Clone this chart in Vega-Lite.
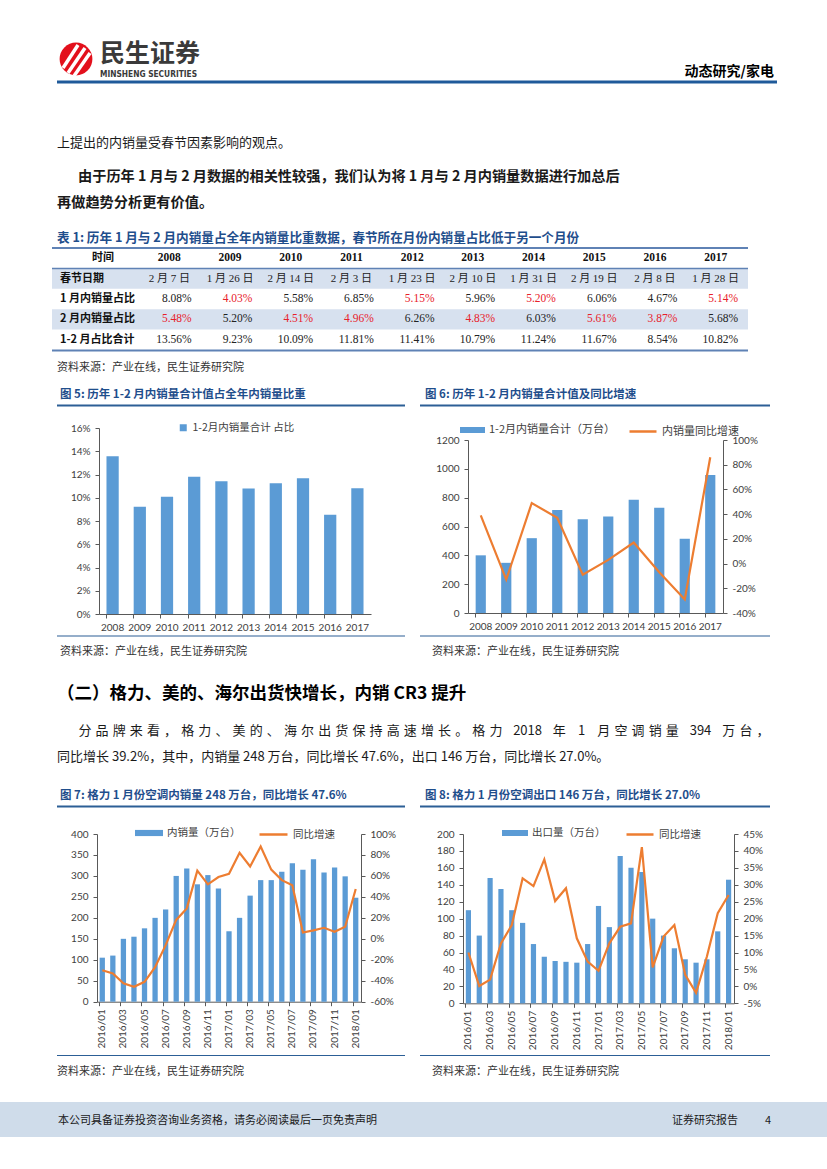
{
 "$schema": "https://vega.github.io/schema/vega-lite/v6.json",
 "width": 827,
 "height": 1169,
 "autosize": {"type": "none"},
 "padding": 0,
 "background": "white",
 "config": {
  "view": {"stroke": null},
  "font": "Noto Sans CJK SC",
  "locale": {"number": {"decimal": ".", "thousands": ",", "grouping": [3], "currency": ["", ""], "minus": "-"}},
  "text": {"baseline": "middle", "align": "left", "font": "Noto Sans CJK SC", "color": "#1a1a1a"},
  "axis": {"grid": false, "labelFont": "Lato", "labelFontSize": 10, "labelColor": "#404040", "domainColor": "#595959", "tickColor": "#595959", "tickSize": 4, "labelPadding": 2},
  "legend": {"labelFont": "Noto Sans CJK SC", "labelFontSize": 10.5, "labelColor": "#404040", "padding": 0, "labelOffset": 4}
 },
 "datasets": {
  "spring": [
   {"year": "2008", "date": "2 月 7 日", "jan": 0.0808, "feb": 0.0548, "total": 0.1356, "fest": 2},
   {"year": "2009", "date": "1 月 26 日", "jan": 0.0403, "feb": 0.0520, "total": 0.0923, "fest": 1},
   {"year": "2010", "date": "2 月 14 日", "jan": 0.0558, "feb": 0.0451, "total": 0.1009, "fest": 2},
   {"year": "2011", "date": "2 月 3 日", "jan": 0.0685, "feb": 0.0496, "total": 0.1181, "fest": 2},
   {"year": "2012", "date": "1 月 23 日", "jan": 0.0515, "feb": 0.0626, "total": 0.1141, "fest": 1},
   {"year": "2013", "date": "2 月 10 日", "jan": 0.0596, "feb": 0.0483, "total": 0.1079, "fest": 2},
   {"year": "2014", "date": "1 月 31 日", "jan": 0.0520, "feb": 0.0603, "total": 0.1124, "fest": 1},
   {"year": "2015", "date": "2 月 19 日", "jan": 0.0606, "feb": 0.0561, "total": 0.1167, "fest": 2},
   {"year": "2016", "date": "2 月 8 日", "jan": 0.0467, "feb": 0.0387, "total": 0.0854, "fest": 2},
   {"year": "2017", "date": "1 月 28 日", "jan": 0.0514, "feb": 0.0568, "total": 0.1082, "fest": 1}
  ],
  "rows": [
   {"row": "时间"}, {"row": "春节日期"}, {"row": "1 月内销量占比"}, {"row": "2 月内销量占比"}, {"row": "1-2 月占比合计"}
  ],
  "p4": [
   {"i": 0, "c": "分"}, {"i": 1, "c": "品"}, {"i": 2, "c": "牌"}, {"i": 3, "c": "来"}, {"i": 4, "c": "看"}, {"i": 5, "c": "，"},
   {"i": 6, "c": "格"}, {"i": 7, "c": "力"}, {"i": 8, "c": "、"}, {"i": 9, "c": "美"}, {"i": 10, "c": "的"}, {"i": 11, "c": "、"},
   {"i": 12, "c": "海"}, {"i": 13, "c": "尔"}, {"i": 14, "c": "出"}, {"i": 15, "c": "货"}, {"i": 16, "c": "保"}, {"i": 17, "c": "持"},
   {"i": 18, "c": "高"}, {"i": 19, "c": "速"}, {"i": 20, "c": "增"}, {"i": 21, "c": "长"}, {"i": 22, "c": "。"}, {"i": 23, "c": "格"},
   {"i": 24, "c": "力"}, {"i": 25.85, "c": "2018"}, {"i": 27.7, "c": "年"}, {"i": 29.0, "c": "1"}, {"i": 30.3, "c": "月"},
   {"i": 31.3, "c": "空"}, {"i": 32.3, "c": "调"}, {"i": 33.3, "c": "销"}, {"i": 34.3, "c": "量"}, {"i": 35.95, "c": "394"},
   {"i": 37.6, "c": "万"}, {"i": 38.6, "c": "台"}, {"i": 39.6, "c": "，"}
  ],
  "fig6": [
   {"year": "2008", "sales": 400, "growth": 0.39},
   {"year": "2009", "sales": 348, "growth": -0.13},
   {"year": "2010", "sales": 519, "growth": 0.49},
   {"year": "2011", "sales": 715, "growth": 0.37},
   {"year": "2012", "sales": 651, "growth": -0.09},
   {"year": "2013", "sales": 670, "growth": 0.03},
   {"year": "2014", "sales": 785, "growth": 0.17},
   {"year": "2015", "sales": 730, "growth": -0.07},
   {"year": "2016", "sales": 515, "growth": -0.29},
   {"year": "2017", "sales": 958, "growth": 0.86}
  ],
  "fig7": [
   {"month": "2016/01", "v": 105, "g": -0.30},
   {"month": "2016/02", "v": 110, "g": -0.33},
   {"month": "2016/03", "v": 150, "g": -0.425},
   {"month": "2016/04", "v": 155, "g": -0.457},
   {"month": "2016/05", "v": 175, "g": -0.41},
   {"month": "2016/06", "v": 200, "g": -0.27},
   {"month": "2016/07", "v": 220, "g": -0.06},
   {"month": "2016/08", "v": 300, "g": 0.18},
   {"month": "2016/09", "v": 318, "g": 0.29},
   {"month": "2016/10", "v": 280, "g": 0.65},
   {"month": "2016/11", "v": 302, "g": 0.52},
   {"month": "2016/12", "v": 270, "g": 0.59},
   {"month": "2017/01", "v": 168, "g": 0.62},
   {"month": "2017/02", "v": 200, "g": 0.82},
   {"month": "2017/03", "v": 253, "g": 0.69},
   {"month": "2017/04", "v": 290, "g": 0.88},
   {"month": "2017/05", "v": 290, "g": 0.66},
   {"month": "2017/06", "v": 310, "g": 0.56},
   {"month": "2017/07", "v": 330, "g": 0.51},
   {"month": "2017/08", "v": 315, "g": 0.06},
   {"month": "2017/09", "v": 340, "g": 0.08},
   {"month": "2017/10", "v": 308, "g": 0.105},
   {"month": "2017/11", "v": 320, "g": 0.068},
   {"month": "2017/12", "v": 299, "g": 0.115},
   {"month": "2018/01", "v": 248, "g": 0.476}
  ],
  "fig8": [
   {"month": "2016/01", "v": 110, "g": 0.10},
   {"month": "2016/02", "v": 80, "g": 0.001},
   {"month": "2016/03", "v": 148, "g": 0.02},
   {"month": "2016/04", "v": 135, "g": 0.127},
   {"month": "2016/05", "v": 110, "g": 0.181},
   {"month": "2016/06", "v": 95, "g": 0.319},
   {"month": "2016/07", "v": 70, "g": 0.296},
   {"month": "2016/08", "v": 55, "g": 0.375},
   {"month": "2016/09", "v": 50, "g": 0.252},
   {"month": "2016/10", "v": 49, "g": 0.29},
   {"month": "2016/11", "v": 48, "g": 0.142},
   {"month": "2016/12", "v": 70, "g": 0.073},
   {"month": "2017/01", "v": 115, "g": 0.046},
   {"month": "2017/02", "v": 90, "g": 0.127},
   {"month": "2017/03", "v": 174, "g": 0.176},
   {"month": "2017/04", "v": 160, "g": 0.186},
   {"month": "2017/05", "v": 155, "g": 0.411},
   {"month": "2017/06", "v": 100, "g": 0.056},
   {"month": "2017/07", "v": 80, "g": 0.147},
   {"month": "2017/08", "v": 65, "g": 0.181},
   {"month": "2017/09", "v": 52, "g": 0.034},
   {"month": "2017/10", "v": 48, "g": -0.019},
   {"month": "2017/11", "v": 52, "g": 0.088},
   {"month": "2017/12", "v": 85, "g": 0.216},
   {"month": "2018/01", "v": 146, "g": 0.27}
  ]
 },
 "resolve": {"scale": {"x": "independent", "y": "independent", "fill": "independent", "stroke": "independent"}},
 "layer": [
  {"data": {"values": [{"t": "logo"}]}, "mark": {"type": "point", "shape": "circle", "filled": true, "size": 1075, "color": "#e3101c", "opacity": 1}, "encoding": {"x": {"value": 76}, "y": {"value": 59}}},
  {"data": {"values": [{"t": "logo"}]}, "mark": {"type": "rule", "color": "white", "strokeWidth": 3.5}, "encoding": {"x": {"value": 63}, "y": {"value": 68}, "x2": {"value": 78}, "y2": {"value": 45}}},
  {"data": {"values": [{"t": "logo"}]}, "mark": {"type": "rule", "color": "white", "strokeWidth": 3.5}, "encoding": {"x": {"value": 68}, "y": {"value": 73}, "x2": {"value": 85}, "y2": {"value": 48}}},
  {"data": {"values": [{"t": "logo"}]}, "mark": {"type": "rule", "color": "white", "strokeWidth": 3.5}, "encoding": {"x": {"value": 74}, "y": {"value": 76}, "x2": {"value": 90}, "y2": {"value": 53}}},
  {"data": {"values": [{"t": "民生证券"}]}, "mark": {"type": "text", "fontSize": 25, "fontWeight": "bold", "color": "#3a3a3a"}, "encoding": {"x": {"value": 100}, "y": {"value": 54}, "text": {"field": "t"}}},
  {"data": {"values": [{"t": "MINSHENG SECURITIES"}]}, "mark": {"type": "text", "font": "DejaVu Sans Condensed", "fontSize": 8.3, "fontWeight": "bold", "color": "#3a3a3a"}, "encoding": {"x": {"value": 100}, "y": {"value": 74.5}, "text": {"field": "t"}}},
  {"data": {"values": [{"t": "动态研究/家电"}]}, "mark": {"type": "text", "fontSize": 14, "fontWeight": "bold", "color": "#000000", "align": "right"}, "encoding": {"x": {"value": 774}, "y": {"value": 72}, "text": {"field": "t"}}},
  {"data": {"values": [{"t": "header"}]}, "mark": {"type": "rule", "color": "#1f5a9a", "strokeWidth": 3}, "encoding": {"x": {"value": 57}, "x2": {"value": 777}, "y": {"value": 82}}},

  {"data": {"values": [{"t": "上提出的内销量受春节因素影响的观点。"}]}, "mark": {"type": "text", "fontSize": 13}, "encoding": {"x": {"value": 57}, "y": {"value": 143}, "text": {"field": "t"}}},
  {"data": {"values": [{"t": "由于历年 1 月与 2 月数据的相关性较强，我们认为将 1 月与 2 月内销量数据进行加总后"}]}, "mark": {"type": "text", "fontSize": 14.2, "fontWeight": "bold"}, "encoding": {"x": {"value": 78}, "y": {"value": 177}, "text": {"field": "t"}}},
  {"data": {"values": [{"t": "再做趋势分析更有价值。"}]}, "mark": {"type": "text", "fontSize": 14.2, "fontWeight": "bold"}, "encoding": {"x": {"value": 57}, "y": {"value": 203}, "text": {"field": "t"}}},
  {"data": {"values": [{"t": "表 1: 历年 1 月与 2 月内销量占全年内销量比重数据，春节所在月份内销量占比低于另一个月份"}]}, "mark": {"type": "text", "fontSize": 12.6, "fontWeight": "bold", "color": "#1f4e8c"}, "encoding": {"x": {"value": 57}, "y": {"value": 238}, "text": {"field": "t"}}},

  {
   "layer": [
    {"data": {"name": "rows"}, "transform": [{"filter": {"field": "row", "oneOf": ["春节日期", "2 月内销量占比"]}}], "mark": {"type": "rect", "color": "#d7e1ef"}, "encoding": {"x": {"value": 52}, "x2": {"value": 748}, "y": {"field": "row", "type": "nominal", "axis": null, "scale": {"type": "band", "domain": ["时间", "春节日期", "1 月内销量占比", "2 月内销量占比", "1-2 月占比合计"], "range": [248, 350], "paddingInner": 0, "paddingOuter": 0}}}},
    {"data": {"name": "rows"}, "transform": [{"filter": "datum.row !== '时间'"}], "mark": {"type": "text", "fontSize": 11, "fontWeight": "bold", "color": "#111111"}, "encoding": {"x": {"value": 60}, "y": {"field": "row", "type": "nominal", "bandPosition": 0.5, "axis": null, "scale": {"type": "band", "domain": ["时间", "春节日期", "1 月内销量占比", "2 月内销量占比", "1-2 月占比合计"], "range": [248, 350], "paddingInner": 0, "paddingOuter": 0}}, "text": {"field": "row"}}},
    {"data": {"name": "rows"}, "transform": [{"filter": "datum.row === '时间'"}], "mark": {"type": "text", "fontSize": 11, "fontWeight": "bold", "color": "#111111", "align": "center"}, "encoding": {"x": {"value": 103}, "y": {"field": "row", "type": "nominal", "bandPosition": 0.5, "axis": null, "scale": {"type": "band", "domain": ["时间", "春节日期", "1 月内销量占比", "2 月内销量占比", "1-2 月占比合计"], "range": [248, 350], "paddingInner": 0, "paddingOuter": 0}}, "text": {"field": "row"}}},
    {"data": {"name": "spring"}, "mark": {"type": "text", "font": "Liberation Serif", "fontSize": 11.5, "fontWeight": "bold", "color": "#111111", "align": "center"}, "encoding": {"x": {"field": "year", "type": "nominal", "bandPosition": 0.5, "axis": null, "scale": {"type": "band", "domain": ["2008", "2009", "2010", "2011", "2012", "2013", "2014", "2015", "2016", "2017"], "range": [139, 746], "paddingInner": 0, "paddingOuter": 0}}, "y": {"datum": "时间", "type": "nominal", "bandPosition": 0.5, "axis": null, "scale": {"type": "band", "domain": ["时间", "春节日期", "1 月内销量占比", "2 月内销量占比", "1-2 月占比合计"], "range": [248, 350], "paddingInner": 0, "paddingOuter": 0}}, "text": {"field": "year"}}},
    {"data": {"name": "spring"}, "mark": {"type": "text", "font": "Liberation Serif, Noto Sans CJK SC", "fontSize": 11, "color": "#222222", "align": "center"}, "encoding": {"x": {"field": "year", "type": "nominal", "bandPosition": 0.5, "axis": null, "scale": {"type": "band", "domain": ["2008", "2009", "2010", "2011", "2012", "2013", "2014", "2015", "2016", "2017"], "range": [139, 746], "paddingInner": 0, "paddingOuter": 0}}, "y": {"datum": "春节日期", "type": "nominal", "bandPosition": 0.5, "axis": null, "scale": {"type": "band", "domain": ["时间", "春节日期", "1 月内销量占比", "2 月内销量占比", "1-2 月占比合计"], "range": [248, 350], "paddingInner": 0, "paddingOuter": 0}}, "text": {"field": "date"}}},
    {"data": {"name": "spring"}, "mark": {"type": "text", "font": "Liberation Serif", "fontSize": 11.5, "align": "right", "dx": -8}, "encoding": {"x": {"field": "year", "type": "nominal", "bandPosition": 1, "axis": null, "scale": {"type": "band", "domain": ["2008", "2009", "2010", "2011", "2012", "2013", "2014", "2015", "2016", "2017"], "range": [139, 746], "paddingInner": 0, "paddingOuter": 0}}, "y": {"datum": "1 月内销量占比", "type": "nominal", "bandPosition": 0.5, "axis": null, "scale": {"type": "band", "domain": ["时间", "春节日期", "1 月内销量占比", "2 月内销量占比", "1-2 月占比合计"], "range": [248, 350], "paddingInner": 0, "paddingOuter": 0}}, "text": {"field": "jan", "type": "quantitative", "format": ".2%"}, "color": {"condition": {"test": "datum.fest === 1", "value": "#e8202a"}, "value": "#222222"}}},
    {"data": {"name": "spring"}, "mark": {"type": "text", "font": "Liberation Serif", "fontSize": 11.5, "align": "right", "dx": -8}, "encoding": {"x": {"field": "year", "type": "nominal", "bandPosition": 1, "axis": null, "scale": {"type": "band", "domain": ["2008", "2009", "2010", "2011", "2012", "2013", "2014", "2015", "2016", "2017"], "range": [139, 746], "paddingInner": 0, "paddingOuter": 0}}, "y": {"datum": "2 月内销量占比", "type": "nominal", "bandPosition": 0.5, "axis": null, "scale": {"type": "band", "domain": ["时间", "春节日期", "1 月内销量占比", "2 月内销量占比", "1-2 月占比合计"], "range": [248, 350], "paddingInner": 0, "paddingOuter": 0}}, "text": {"field": "feb", "type": "quantitative", "format": ".2%"}, "color": {"condition": {"test": "datum.fest === 2", "value": "#e8202a"}, "value": "#222222"}}},
    {"data": {"name": "spring"}, "mark": {"type": "text", "font": "Liberation Serif", "fontSize": 11.5, "align": "right", "dx": -8, "color": "#222222"}, "encoding": {"x": {"field": "year", "type": "nominal", "bandPosition": 1, "axis": null, "scale": {"type": "band", "domain": ["2008", "2009", "2010", "2011", "2012", "2013", "2014", "2015", "2016", "2017"], "range": [139, 746], "paddingInner": 0, "paddingOuter": 0}}, "y": {"datum": "1-2 月占比合计", "type": "nominal", "bandPosition": 0.5, "axis": null, "scale": {"type": "band", "domain": ["时间", "春节日期", "1 月内销量占比", "2 月内销量占比", "1-2 月占比合计"], "range": [248, 350], "paddingInner": 0, "paddingOuter": 0}}, "text": {"field": "total", "type": "quantitative", "format": ".2%"}}},
    {"data": {"values": [{"t": "top"}]}, "mark": {"type": "rule", "color": "#5f82b5", "strokeWidth": 2}, "encoding": {"x": {"value": 52}, "x2": {"value": 748}, "y": {"value": 248}}},
    {"data": {"values": [{"t": "head"}]}, "mark": {"type": "rule", "color": "#5f82b5", "strokeWidth": 1.5}, "encoding": {"x": {"value": 52}, "x2": {"value": 748}, "y": {"value": 268.4}}},
    {"data": {"values": [{"t": "bottom"}]}, "mark": {"type": "rule", "color": "#5f82b5", "strokeWidth": 2}, "encoding": {"x": {"value": 52}, "x2": {"value": 748}, "y": {"value": 350.5}}}
   ]
  },
  {"data": {"values": [{"t": "资料来源：产业在线，民生证券研究院"}]}, "mark": {"type": "text", "fontSize": 11, "color": "#333333"}, "encoding": {"x": {"value": 57}, "y": {"value": 368}, "text": {"field": "t"}}},

  {"data": {"values": [{"t": "图 5: 历年 1-2 月内销量合计值占全年内销量比重"}]}, "mark": {"type": "text", "fontSize": 11.5, "fontWeight": "bold", "color": "#1f4e8c"}, "encoding": {"x": {"value": 60}, "y": {"value": 395}, "text": {"field": "t"}}},
  {"data": {"values": [{"t": "图 6: 历年 1-2 月内销量合计值及同比增速"}]}, "mark": {"type": "text", "fontSize": 11.5, "fontWeight": "bold", "color": "#1f4e8c"}, "encoding": {"x": {"value": 425}, "y": {"value": 395}, "text": {"field": "t"}}},
  {"data": {"values": [{"t": "u5"}]}, "mark": {"type": "rule", "color": "#2c5f96", "strokeWidth": 2}, "encoding": {"x": {"value": 57}, "x2": {"value": 405}, "y": {"value": 405.5}}},
  {"data": {"values": [{"t": "u6"}]}, "mark": {"type": "rule", "color": "#2c5f96", "strokeWidth": 2}, "encoding": {"x": {"value": 420}, "x2": {"value": 770}, "y": {"value": 405.5}}},

  {"data": {"name": "spring"}, "mark": {"type": "bar"}, "encoding": {
   "x": {"field": "year", "type": "nominal", "scale": {"type": "band", "domain": ["2008", "2009", "2010", "2011", "2012", "2013", "2014", "2015", "2016", "2017"], "range": [99, 371], "paddingInner": 0.55, "paddingOuter": 0.275}, "axis": {"orient": "bottom", "offset": -555, "title": null, "labelAngle": 0, "bandPosition": 0, "labelPadding": 4}},
   "y": {"field": "total", "type": "quantitative", "scale": {"domain": [0, 0.16], "range": [614, 428], "nice": false}, "axis": {"orient": "left", "offset": -99, "title": null, "values": [0, 0.02, 0.04, 0.06, 0.08, 0.1, 0.12, 0.14, 0.16], "format": ".0%", "labelPadding": 5}},
   "fill": {"datum": "1-2月内销量合计 占比", "type": "nominal", "scale": {"range": ["#5b9bd5"]}, "legend": {"orient": "none", "legendX": 178, "legendY": 422.5, "title": null, "symbolType": "square", "symbolSize": 49, "symbolStrokeWidth": 0}}
  }},

  {"data": {"name": "fig6"}, "resolve": {"scale": {"y": "independent"}}, "layer": [
   {"mark": {"type": "bar"}, "encoding": {
    "x": {"field": "year", "type": "nominal", "scale": {"type": "band", "domain": ["2008", "2009", "2010", "2011", "2012", "2013", "2014", "2015", "2016", "2017"], "range": [468, 723], "paddingInner": 0.6, "paddingOuter": 0.3}, "axis": {"orient": "bottom", "offset": -556, "title": null, "labelAngle": 0, "bandPosition": 0, "labelPadding": 4}},
    "y": {"field": "sales", "type": "quantitative", "scale": {"domain": [0, 1200], "range": [613, 440], "nice": false}, "axis": {"orient": "left", "offset": -468, "title": null, "values": [0, 200, 400, 600, 800, 1000, 1200], "format": "d", "labelPadding": 5}},
    "fill": {"datum": "1-2月内销量合计（万台）", "type": "nominal", "scale": {"range": ["#5b9bd5"]}, "legend": {"orient": "none", "legendX": 460, "legendY": 417.5, "title": null, "symbolType": "M-1,-0.24H1V0.24H-1Z", "symbolSize": 625, "symbolStrokeWidth": 0, "labelFontSize": 11}}
   }},
   {"mark": {"type": "line", "strokeWidth": 2.2}, "encoding": {
    "x": {"field": "year", "type": "nominal", "bandPosition": 0.5},
    "y": {"field": "growth", "type": "quantitative", "scale": {"domain": [-0.4, 1.0], "range": [613, 440], "nice": false, "zero": false}, "axis": {"orient": "right", "offset": -104, "title": null, "values": [-0.4, -0.2, 0, 0.2, 0.4, 0.6, 0.8, 1.0], "format": ".0%", "labelPadding": 5}},
    "stroke": {"datum": "内销量同比增速", "type": "nominal", "scale": {"range": ["#ed7d31"]}, "legend": {"orient": "none", "legendX": 628, "legendY": 416.5, "title": null, "symbolType": "stroke", "symbolSize": 729, "symbolStrokeWidth": 2.5, "labelFontSize": 11}}
   }}
  ]},

  {"data": {"values": [{"t": "b5"}]}, "mark": {"type": "rule", "color": "#2c5f96", "strokeWidth": 1.2}, "encoding": {"x": {"value": 57}, "x2": {"value": 405}, "y": {"value": 636}}},
  {"data": {"values": [{"t": "b6"}]}, "mark": {"type": "rule", "color": "#2c5f96", "strokeWidth": 1.2}, "encoding": {"x": {"value": 420}, "x2": {"value": 770}, "y": {"value": 636}}},
  {"data": {"values": [{"t": "资料来源：产业在线，民生证券研究院"}]}, "mark": {"type": "text", "fontSize": 11, "color": "#333333"}, "encoding": {"x": {"value": 60}, "y": {"value": 652}, "text": {"field": "t"}}},
  {"data": {"values": [{"t": "资料来源：产业在线，民生证券研究院"}]}, "mark": {"type": "text", "fontSize": 11, "color": "#333333"}, "encoding": {"x": {"value": 432}, "y": {"value": 652}, "text": {"field": "t"}}},

  {"data": {"values": [{"t": "（二）格力、美的、海尔出货快增长，内销 CR3 提升"}]}, "mark": {"type": "text", "fontSize": 17.5, "fontWeight": "bold", "color": "#000000"}, "encoding": {"x": {"value": 57}, "y": {"value": 694}, "text": {"field": "t"}}},
  {"data": {"name": "p4"}, "mark": {"type": "text", "fontSize": 13, "align": "center"}, "encoding": {"x": {"field": "i", "type": "quantitative", "axis": null, "scale": {"domain": [0, 39.6], "range": [85, 763]}}, "y": {"value": 731}, "text": {"field": "c"}}},
  {"data": {"values": [{"t": "同比增长 39.2%，其中，内销量 248 万台，同比增长 47.6%，出口 146 万台，同比增长 27.0%。"}]}, "mark": {"type": "text", "fontSize": 13}, "encoding": {"x": {"value": 57}, "y": {"value": 757}, "text": {"field": "t"}}},

  {"data": {"values": [{"t": "图 7: 格力 1 月份空调内销量 248 万台，同比增长 47.6%"}]}, "mark": {"type": "text", "fontSize": 11.5, "fontWeight": "bold", "color": "#1f4e8c"}, "encoding": {"x": {"value": 60}, "y": {"value": 796}, "text": {"field": "t"}}},
  {"data": {"values": [{"t": "图 8: 格力 1 月份空调出口 146 万台，同比增长 27.0%"}]}, "mark": {"type": "text", "fontSize": 11.5, "fontWeight": "bold", "color": "#1f4e8c"}, "encoding": {"x": {"value": 425}, "y": {"value": 796}, "text": {"field": "t"}}},
  {"data": {"values": [{"t": "u7"}]}, "mark": {"type": "rule", "color": "#2c5f96", "strokeWidth": 2}, "encoding": {"x": {"value": 57}, "x2": {"value": 405}, "y": {"value": 806.5}}},
  {"data": {"values": [{"t": "u8"}]}, "mark": {"type": "rule", "color": "#2c5f96", "strokeWidth": 2}, "encoding": {"x": {"value": 420}, "x2": {"value": 770}, "y": {"value": 806.5}}},

  {"data": {"name": "fig7"}, "resolve": {"scale": {"y": "independent"}}, "layer": [
   {"mark": {"type": "bar"}, "encoding": {
    "x": {"field": "month", "type": "nominal", "scale": {"type": "band", "domain": ["2016/01", "2016/02", "2016/03", "2016/04", "2016/05", "2016/06", "2016/07", "2016/08", "2016/09", "2016/10", "2016/11", "2016/12", "2017/01", "2017/02", "2017/03", "2017/04", "2017/05", "2017/06", "2017/07", "2017/08", "2017/09", "2017/10", "2017/11", "2017/12", "2018/01"], "range": [97, 361], "paddingInner": 0.5, "paddingOuter": 0.25}, "axis": {"orient": "bottom", "offset": -167.3, "title": null, "labelAngle": -90, "bandPosition": 0, "labelPadding": 3, "values": ["2016/01", "2016/03", "2016/05", "2016/07", "2016/09", "2016/11", "2017/01", "2017/03", "2017/05", "2017/07", "2017/09", "2017/11", "2018/01"]}},
    "y": {"field": "v", "type": "quantitative", "scale": {"domain": [0, 400], "range": [1001.7, 834], "nice": false}, "axis": {"orient": "left", "offset": -97, "title": null, "values": [0, 50, 100, 150, 200, 250, 300, 350, 400], "labelPadding": 5}},
    "fill": {"datum": "内销量（万台）", "type": "nominal", "scale": {"range": ["#5b9bd5"]}, "legend": {"orient": "none", "legendX": 135, "legendY": 819, "title": null, "symbolType": "M-1,-0.22H1V0.22H-1Z", "symbolSize": 784, "symbolStrokeWidth": 0}}
   }},
   {"mark": {"type": "line", "strokeWidth": 2.2}, "encoding": {
    "x": {"field": "month", "type": "nominal", "bandPosition": 0.5},
    "y": {"field": "g", "type": "quantitative", "scale": {"domain": [-0.6, 1.0], "range": [1001.7, 834], "nice": false, "zero": false}, "axis": {"orient": "right", "offset": -466, "title": null, "values": [-0.6, -0.4, -0.2, 0, 0.2, 0.4, 0.6, 0.8, 1.0], "format": ".0%", "labelPadding": 5}},
    "stroke": {"datum": "同比增速", "type": "nominal", "scale": {"range": ["#ed7d31"]}, "legend": {"orient": "none", "legendX": 258, "legendY": 819, "title": null, "symbolType": "stroke", "symbolSize": 784, "symbolStrokeWidth": 2.5}}
   }}
  ]},

  {"data": {"name": "fig8"}, "resolve": {"scale": {"y": "independent"}}, "layer": [
   {"mark": {"type": "bar"}, "encoding": {
    "x": {"field": "month", "type": "nominal", "scale": {"type": "band", "domain": ["2016/01", "2016/02", "2016/03", "2016/04", "2016/05", "2016/06", "2016/07", "2016/08", "2016/09", "2016/10", "2016/11", "2016/12", "2017/01", "2017/02", "2017/03", "2017/04", "2017/05", "2017/06", "2017/07", "2017/08", "2017/09", "2017/10", "2017/11", "2017/12", "2018/01"], "range": [463, 734], "paddingInner": 0.52, "paddingOuter": 0.26}, "axis": {"orient": "bottom", "offset": -165.7, "title": null, "labelAngle": -90, "bandPosition": 0, "labelPadding": 3, "values": ["2016/01", "2016/03", "2016/05", "2016/07", "2016/09", "2016/11", "2017/01", "2017/03", "2017/05", "2017/07", "2017/09", "2017/11", "2018/01"]}},
    "y": {"field": "v", "type": "quantitative", "scale": {"domain": [0, 200], "range": [1003.3, 834], "nice": false}, "axis": {"orient": "left", "offset": -463, "title": null, "values": [0, 20, 40, 60, 80, 100, 120, 140, 160, 180, 200], "labelPadding": 5}},
    "fill": {"datum": "出口量（万台）", "type": "nominal", "scale": {"range": ["#5b9bd5"]}, "legend": {"orient": "none", "legendX": 502, "legendY": 820, "title": null, "symbolType": "M-1,-0.23H1V0.23H-1Z", "symbolSize": 676, "symbolStrokeWidth": 0}}
   }},
   {"mark": {"type": "line", "strokeWidth": 2.2}, "encoding": {
    "x": {"field": "month", "type": "nominal", "bandPosition": 0.5},
    "y": {"field": "g", "type": "quantitative", "scale": {"domain": [-0.05, 0.45], "range": [1003.3, 834], "nice": false, "zero": false}, "axis": {"orient": "right", "offset": -93, "title": null, "values": [-0.05, 0, 0.05, 0.1, 0.15, 0.2, 0.25, 0.3, 0.35, 0.4, 0.45], "format": ".0%", "labelPadding": 5}},
    "stroke": {"datum": "同比增速", "type": "nominal", "scale": {"range": ["#ed7d31"]}, "legend": {"orient": "none", "legendX": 625, "legendY": 819.5, "title": null, "symbolType": "stroke", "symbolSize": 729, "symbolStrokeWidth": 2.5}}
   }}
  ]},

  {"data": {"values": [{"t": "b7"}]}, "mark": {"type": "rule", "color": "#2c5f96", "strokeWidth": 1.2}, "encoding": {"x": {"value": 57}, "x2": {"value": 405}, "y": {"value": 1055.5}}},
  {"data": {"values": [{"t": "b8"}]}, "mark": {"type": "rule", "color": "#2c5f96", "strokeWidth": 1.2}, "encoding": {"x": {"value": 420}, "x2": {"value": 770}, "y": {"value": 1055.5}}},
  {"data": {"values": [{"t": "资料来源：产业在线，民生证券研究院"}]}, "mark": {"type": "text", "fontSize": 11, "color": "#333333"}, "encoding": {"x": {"value": 57}, "y": {"value": 1072}, "text": {"field": "t"}}},
  {"data": {"values": [{"t": "资料来源：产业在线，民生证券研究院"}]}, "mark": {"type": "text", "fontSize": 11, "color": "#333333"}, "encoding": {"x": {"value": 432}, "y": {"value": 1072}, "text": {"field": "t"}}},

  {"data": {"values": [{"t": "footer"}]}, "mark": {"type": "rect", "color": "#cfdcea"}, "encoding": {"x": {"value": 0}, "x2": {"value": 827}, "y": {"value": 1102}, "y2": {"value": 1137}}},
  {"data": {"values": [{"t": "本公司具备证券投资咨询业务资格，请务必阅读最后一页免责声明"}]}, "mark": {"type": "text", "fontSize": 11, "color": "#1a1a1a"}, "encoding": {"x": {"value": 58}, "y": {"value": 1121}, "text": {"field": "t"}}},
  {"data": {"values": [{"t": "证券研究报告"}]}, "mark": {"type": "text", "fontSize": 11, "color": "#1a1a1a"}, "encoding": {"x": {"value": 672}, "y": {"value": 1121}, "text": {"field": "t"}}},
  {"data": {"values": [{"t": "4"}]}, "mark": {"type": "text", "fontSize": 11, "color": "#1a1a1a"}, "encoding": {"x": {"value": 765}, "y": {"value": 1121}, "text": {"field": "t"}}}
 ]
}
